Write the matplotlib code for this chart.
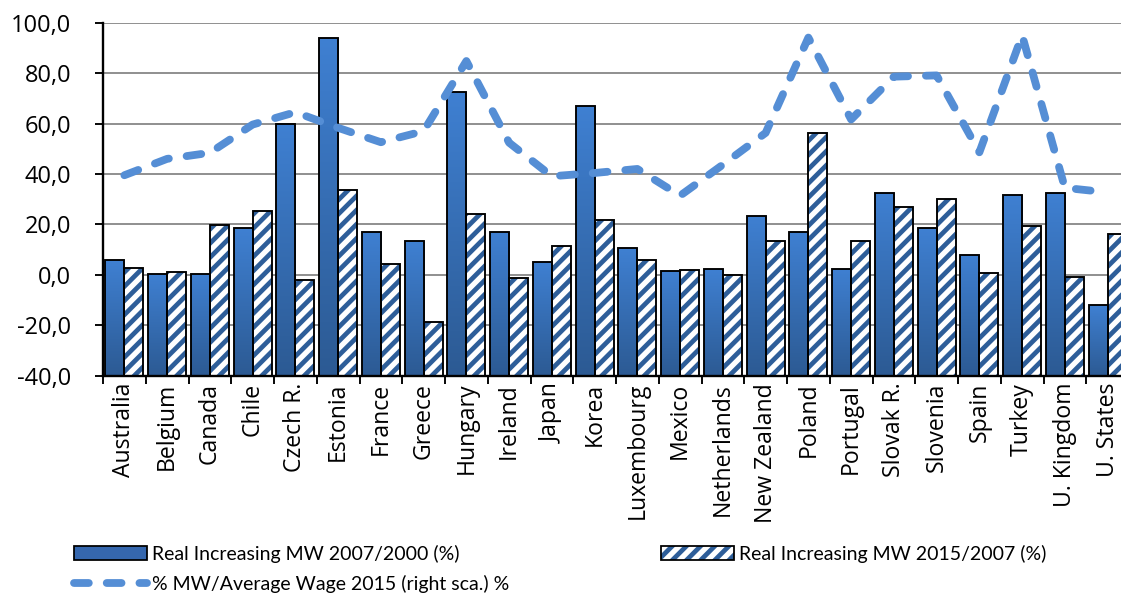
import numpy as np
import matplotlib
matplotlib.use("Agg")
import matplotlib.pyplot as plt
from matplotlib.patches import Patch
from matplotlib.lines import Line2D
from matplotlib.colors import LinearSegmentedColormap

countries = ["Australia", "Belgium", "Canada", "Chile", "Czech R.", "Estonia", "France",
             "Greece", "Hungary", "Ireland", "Japan", "Korea", "Luxembourg", "Mexico",
             "Netherlands", "New Zealand", "Poland", "Portugal", "Slovak R.", "Slovenia",
             "Spain", "Turkey", "U. Kingdom", "U. States"]
mw_2007_2000 = [5.7, 0.5, 0.5, 18.4, 59.9, 94.1, 16.8, 13.3, 72.4, 17.1, 5.2, 66.9, 10.6,
                1.6, 2.3, 23.5, 17.0, 2.5, 32.3, 18.4, 7.7, 31.7, 32.3, -12.1]
mw_2015_2007 = [2.9, 1.1, 19.9, 25.3, -2.0, 33.8, 4.2, -18.7, 24.3, -1.1, 11.3, 21.9, 5.7,
                2.1, -0.1, 13.4, 56.1, 13.4, 27.0, 30.1, 0.9, 19.2, -0.7, 16.2]
mw_avg_wage_2015 = [39.5, 46.0, 48.4, 59.6, 64.5, 58.3, 52.6, 57.0, 84.8, 52.4, 39.1, 40.4,
                    42.0, 31.4, 43.7, 56.3, 94.1, 61.6, 78.6, 79.1, 48.6, 95.0, 34.5, 32.7]
yticks = [-40, -20, 0, 20, 40, 60, 80, 100]
labels = ["Real Increasing MW 2007/2000 (%)", "Real Increasing MW 2015/2007 (%)",
          "% MW/Average Wage 2015 (right sca.) %"]

DPI = 85
plt.rcParams['hatch.linewidth'] = 4.0
plt.rcParams['font.family'] = ['Open Sans', 'DejaVu Sans']
fig = plt.figure(figsize=(1121 / DPI, 595 / DPI), dpi=DPI)
ax = fig.add_axes([103 / 1121, 1 - 375.7 / 595, 1026 / 1121, (375.7 - 22.7) / 595])

BASE = -40
hatch_col = "#2E5E99"
line_col = "#558ED5"
cmap = LinearSegmentedColormap.from_list("g", ["#2C5A93", "#3F80D2"])
grad = np.linspace(0, 1, 256).reshape(-1, 1)

x = np.arange(len(countries))
w = 0.445

# blue gradient bars
bars1 = ax.bar(x - w / 2, np.array(mw_2007_2000) - BASE, width=w, bottom=BASE,
               facecolor="none", edgecolor="black", linewidth=1.6, zorder=4)
for b in bars1:
    x0, y0 = b.get_x(), b.get_y()
    im = ax.imshow(grad, extent=[x0, x0 + b.get_width(), y0, y0 + b.get_height()],
                   origin="lower", cmap=cmap, aspect="auto", zorder=3,
                   interpolation="bilinear")
    im.set_clip_path(b)

# hatched bars
ax.bar(x + w / 2, np.array(mw_2015_2007) - BASE, width=w, bottom=BASE,
       facecolor="white", edgecolor=hatch_col, linewidth=0, hatch="//", zorder=3)
ax.bar(x + w / 2, np.array(mw_2015_2007) - BASE, width=w, bottom=BASE,
       facecolor="none", edgecolor="black", linewidth=1.6, zorder=4)

# line
ln, = ax.plot(x, mw_avg_wage_2015, color=line_col, linewidth=6.6,
              solid_capstyle="round", dash_capstyle="round", zorder=5)
ln.set_dashes((1.9, 2.3))
ax.set_aspect("auto")
ax.set_xlim(-0.5, len(countries) - 0.5)
ax.set_ylim(-40, 100)

# axes styling
ax.set_yticks(yticks)
ax.set_yticklabels([f"{v:.1f}".replace(".", ",") for v in yticks], fontsize=20)
ax.yaxis.grid(True, color="#8C8C8C", linewidth=1.6, zorder=0)
ax.set_axisbelow(True)
ax.set_xticks(x)
ax.set_xticklabels(countries, rotation=90, fontsize=19.5)
ax.tick_params(axis="x", which="major", length=0, pad=6)
ax.set_xticks(np.arange(-0.5, len(countries), 1), minor=True)
ax.tick_params(axis="x", which="minor", length=7, width=1.6, direction="out")
ax.tick_params(axis="y", length=7, width=1.6, direction="out", pad=20)
for s in ["top", "right"]:
    ax.spines[s].set_visible(False)
for s in ["left", "bottom"]:
    ax.spines[s].set_linewidth(2.0)
    ax.spines[s].set_zorder(6)

# legend
h1 = Patch(facecolor="#3567AE", edgecolor="black", linewidth=1.5)
h2 = (Patch(facecolor="white", edgecolor=hatch_col, linewidth=0, hatch="//"),
      Patch(facecolor="none", edgecolor="black", linewidth=1.5))
h3 = Line2D([0], [0], color=line_col, linewidth=6.6, dash_capstyle="round")
h3.set_dashes((1.9, 2.3))
fs = 16.5
fig.legend([h1, h3, h2], [labels[0], labels[2], labels[1]], ncol=2,
           loc="upper left", bbox_to_anchor=(74 / 1121, 1 - 545 / 595),
           frameon=False, prop={"family": "Lato", "size": fs},
           handlelength=3.75, handleheight=0.7, handletextpad=0.25,
           labelspacing=0.62, columnspacing=7.8, borderpad=0, borderaxespad=0)

fig.savefig("out.png", dpi=DPI)
